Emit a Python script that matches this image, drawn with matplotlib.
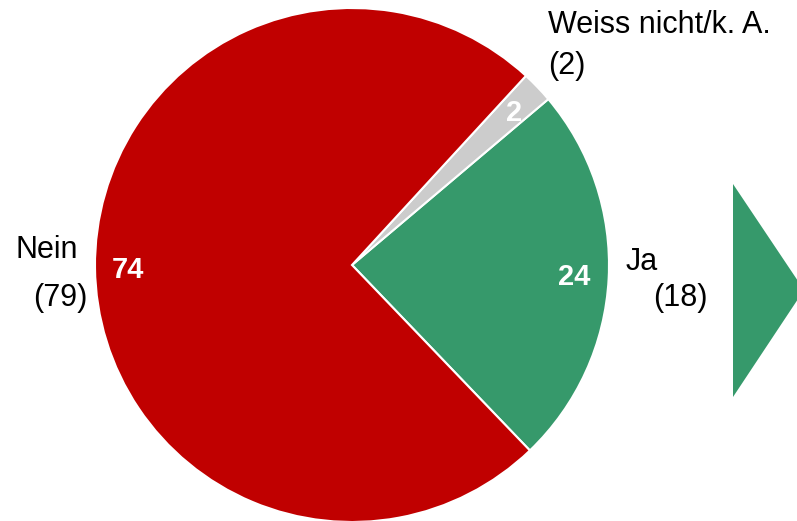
import matplotlib.pyplot as plt
from matplotlib.patches import Polygon

plt.rcParams['font.family'] = ['Liberation Sans', 'DejaVu Sans']

# DATA
categories = ['Ja', 'Weiss nicht/k. A.', 'Nein']
values = [24, 2, 74]
previous = [18, 2, 79]
colors = ['#36996B', '#CCCCCC', '#C00000']

W, H = 797, 521
fig = plt.figure(figsize=(W/100, H/100), dpi=100)
ax = fig.add_axes([0, 0, 1, 1])

cx, cy, r = 352, H - 265, 257
ax.pie(values, colors=colors, startangle=-46.2, counterclock=True,
       center=(cx, cy), radius=r,
       wedgeprops=dict(edgecolor='white', linewidth=1.5))

ax.set_xlim(0, W)
ax.set_ylim(0, H)
ax.set_aspect('equal')
ax.axis('off')

# inner values
inner_pos = [(574, 277), (514, 113), (128, 270)]
for v, (x, y) in zip(values, inner_pos):
    ax.text(x, H - y, str(v), color='white', fontsize=21, fontweight='bold',
            ha='center', va='center')

# outer labels with previous values
ax.text(548, H - 25, categories[1], fontsize=22, ha='left', va='center')
ax.text(548, H - 66, '(%d)' % previous[1], fontsize=22, ha='left', va='center')
ax.text(15, H - 250, categories[2], fontsize=22, ha='left', va='center')
ax.text(88, H - 298, '(%d)' % previous[2], fontsize=22, ha='right', va='center')
ax.text(626, H - 262, categories[0], fontsize=22, ha='left', va='center')
ax.text(708, H - 298, '(%d)' % previous[0], fontsize=22, ha='right', va='center')

# arrow
tri = Polygon([(733, H - 184), (733, H - 397), (804, H - 290)],
              closed=True, facecolor=colors[0], edgecolor='none')
ax.add_patch(tri)

fig.savefig('out.png', dpi=100)
